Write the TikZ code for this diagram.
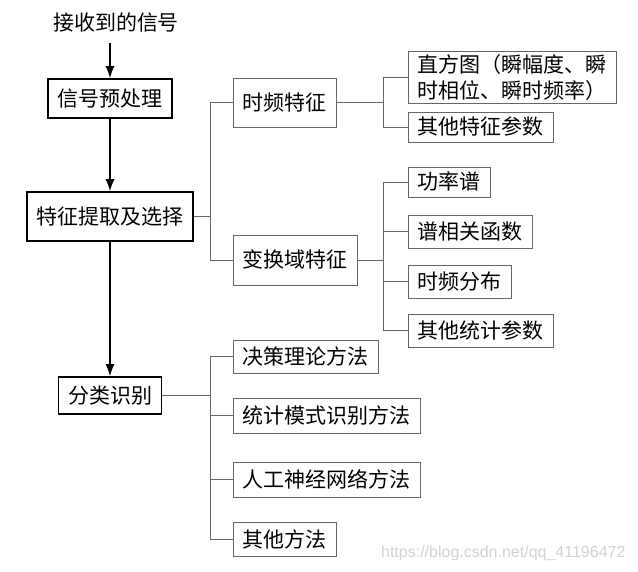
\documentclass[tikz,border=0pt]{standalone}
\usepackage{fontspec}
\newfontfamily\cjk{Noto Sans CJK SC}
\newfontfamily\wmfont{Liberation Sans}
\usetikzlibrary{arrows.meta}

\tikzset{
	cjktext/.style={font=\cjk\fontsize{21}{26}\selectfont},
	bigbox/.style={cjktext, draw=black, line width=1.6pt, inner xsep=9.5pt, text height=18pt, text depth=2pt},
	smallbox/.style={cjktext, draw=black!60, line width=0.9pt, anchor=west, inner xsep=9.5pt, text height=18pt, text depth=2pt},
	arr/.style={line width=1.4pt, -{Latex[length=12pt,width=9pt]}},
	branch/.style={draw=black!60, line width=0.9pt}
}

\begin{document}
\begin{tikzpicture}[x=1pt,y=-1pt]
	\useasboundingbox (0,0) rectangle (638,572);
	\node[cjktext] (sig) at (116,23) {接收到的信号};
	\node[bigbox, minimum height=39pt] (pre) at (110,98.5) {信号预处理};
	\node[bigbox, minimum height=49pt] (feat) at (110,216.5) {特征提取及选择};
	\node[bigbox, minimum height=37pt] (cls) at (110,395.5) {分类识别};
	\coordinate (a0) at (110,43);
	\draw[arr] (a0) -- (pre);
	\draw[arr] (pre) -- (feat);
	\draw[arr] (feat) -- (cls);

	\node[smallbox, minimum height=49pt] (tf) at (233,102.5) {时频特征};
	\node[smallbox, minimum height=50pt] (tr) at (233,260) {变换域特征};
	\node[smallbox, minimum height=33pt] (m1) at (233,356.5) {决策理论方法};
	\node[smallbox, minimum height=35pt] (m2) at (233,415.5) {统计模式识别方法};
	\node[smallbox, minimum height=35pt] (m3) at (233,479.5) {人工神经网络方法};
	\node[smallbox, minimum height=34pt] (m4) at (233,539) {其他方法};

	\node[smallbox, minimum height=49pt, text height=, text depth=, align=left] (hist) at (408,77.5) {直方图（瞬幅度、瞬\\时相位、瞬时频率）};
	\node[smallbox, minimum height=30pt] (oth1) at (408,127) {其他特征参数};
	\node[smallbox, minimum height=30pt] (psd) at (408,182) {功率谱};
	\node[smallbox, minimum height=33pt] (scf) at (408,231.5) {谱相关函数};
	\node[smallbox, minimum height=33pt] (tfd) at (408,281.5) {时频分布};
	\node[smallbox, minimum height=33pt] (oth2) at (408,330.5) {其他统计参数};

	\coordinate (j1) at (210,216.5);
	\draw[branch] (feat) -- (j1) |- (tf.west);
	\draw[branch] (j1) |- (tr.west);
	\coordinate (j2) at (383,102.5);
	\draw[branch] (tf) -- (j2) |- (hist.west);
	\draw[branch] (j2) |- (oth1.west);
	\coordinate (j3) at (383,260);
	\draw[branch] (tr) -- (j3) |- (psd.west);
	\draw[branch] (j3) |- (scf.west);
	\draw[branch] (j3) |- (tfd.west);
	\draw[branch] (j3) |- (oth2.west);
	\coordinate (j4) at (210,395.5);
	\draw[branch] (cls) -- (j4) |- (m1.west);
	\draw[branch] (j4) |- (m2.west);
	\draw[branch] (j4) |- (m3.west);
	\draw[branch] (j4) |- (m4.west);

	\node[font=\wmfont\fontsize{16}{19}\selectfont, text=black!18, anchor=east] (wm) at (629,553) {https://blog.csdn.net/qq\_41196472};
\end{tikzpicture}
\end{document}
